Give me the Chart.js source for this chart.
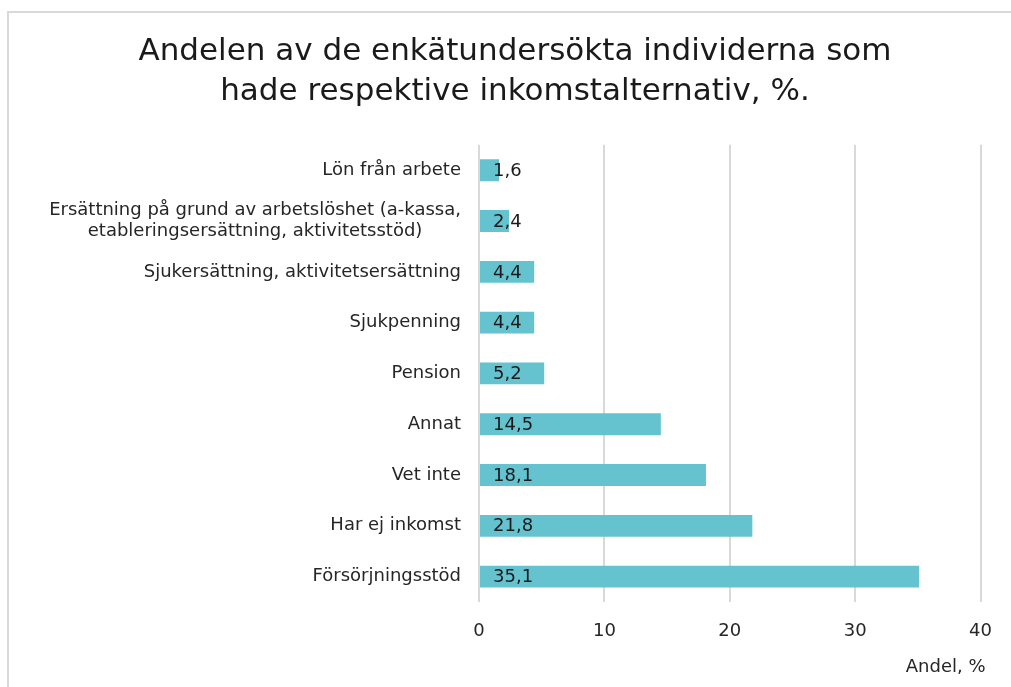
<!DOCTYPE html>
<html>
<head>
<meta charset="utf-8">
<script src="https://cdn.jsdelivr.net/npm/chart.js@4"></script>
<style>
  html, body { margin: 0; padding: 0; background: #fff; overflow: hidden; }
  #frame { position: absolute; left: 7px; top: 11px; width: 1030px; height: 700px; border: 2px solid #d9d9d9; }
  #wrap { position: absolute; left: 0; top: 0; width: 1011px; height: 687px; }
</style>
</head>
<body>
<div id="frame"></div>
<div id="wrap"><canvas id="chart" width="1011" height="687"></canvas></div>
<script>
const categories = [
  'Lön från arbete',
  ['Ersättning på grund av arbetslöshet (a-kassa,', 'etableringsersättning, aktivitetsstöd)'],
  'Sjukersättning, aktivitetsersättning',
  'Sjukpenning',
  'Pension',
  'Annat',
  'Vet inte',
  'Har ej inkomst',
  'Försörjningsstöd'
];
const values = [1.6, 2.4, 4.4, 4.4, 5.2, 14.5, 18.1, 21.8, 35.1];
const xTicks = [0, 10, 20, 30, 40];
const xTitle = 'Andel, %';

const FONT = '"DejaVu Sans", sans-serif';
const TEXT = '#262626';

// category labels: block right-aligned, lines centered inside the block
const catLabels = {
  id: 'catLabels',
  afterDraw(chart) {
    const ctx = chart.ctx;
    const y = chart.scales.y;
    ctx.save();
    ctx.font = '18px ' + FONT;
    ctx.fillStyle = TEXT;
    ctx.textBaseline = 'middle';
    ctx.textAlign = 'center';
    categories.forEach((c, i) => {
      const lines = Array.isArray(c) ? c : [c];
      const maxW = Math.max(...lines.map(l => ctx.measureText(l).width));
      const cx = y.right - 18 - maxW / 2;
      const py = y.getPixelForValue(i);
      const lh = 21;
      lines.forEach((l, j) => {
        ctx.fillText(l, cx, py + (j - (lines.length - 1) / 2) * lh);
      });
    });
    // axis title, bottom right
    ctx.textAlign = 'right';
    ctx.fillText(xTitle, chart.chartArea.right + 5, 667);
    ctx.restore();
  }
};

// value labels inside the bars, at the base
const valueLabels = {
  id: 'valueLabels',
  afterDatasetsDraw(chart) {
    const ctx = chart.ctx;
    const meta = chart.getDatasetMeta(0);
    ctx.save();
    ctx.font = '18px ' + FONT;
    ctx.fillStyle = '#1a1a1a';
    ctx.textBaseline = 'middle';
    ctx.textAlign = 'left';
    meta.data.forEach((bar, i) => {
      ctx.fillText(values[i].toFixed(1).replace('.', ','), bar.base + 13, bar.y + 1);
    });
    ctx.restore();
  }
};

new Chart(document.getElementById('chart'), {
  type: 'bar',
  data: {
    labels: categories,
    datasets: [{
      data: values,
      backgroundColor: '#64c3cf',
      borderWidth: 0,
      barPercentage: 0.43,
      categoryPercentage: 1
    }]
  },
  options: {
    indexAxis: 'y',
    responsive: false,
    animation: false,
    layout: { padding: { left: 47, right: 28, top: 0, bottom: 0 } },
    plugins: {
      legend: { display: false },
      tooltip: { enabled: false },
      title: {
        display: true,
        text: ['Andelen av de enkätundersökta individerna som', 'hade respektive inkomstalternativ, %.'],
        color: '#1a1a1a',
        font: { family: FONT, size: 31, weight: 'normal', lineHeight: 1.32 },
        padding: { top: 31, bottom: 32 }
      }
    },
    scales: {
      x: {
        min: 0,
        max: 40,
        afterBuildTicks(scale) { scale.ticks = xTicks.map(v => ({ value: v })); },
        afterFit(scale) { scale.height = 85; },
        grid: { color: '#d9d9d9', lineWidth: 2, drawTicks: false },
        border: { display: false },
        ticks: { color: TEXT, font: { family: FONT, size: 18 }, padding: 19 }
      },
      y: {
        afterFit(scale) { scale.width = 432; },
        grid: { display: false },
        border: { display: false },
        ticks: { display: false }
      }
    }
  },
  plugins: [catLabels, valueLabels]
});
</script>
</body>
</html>
